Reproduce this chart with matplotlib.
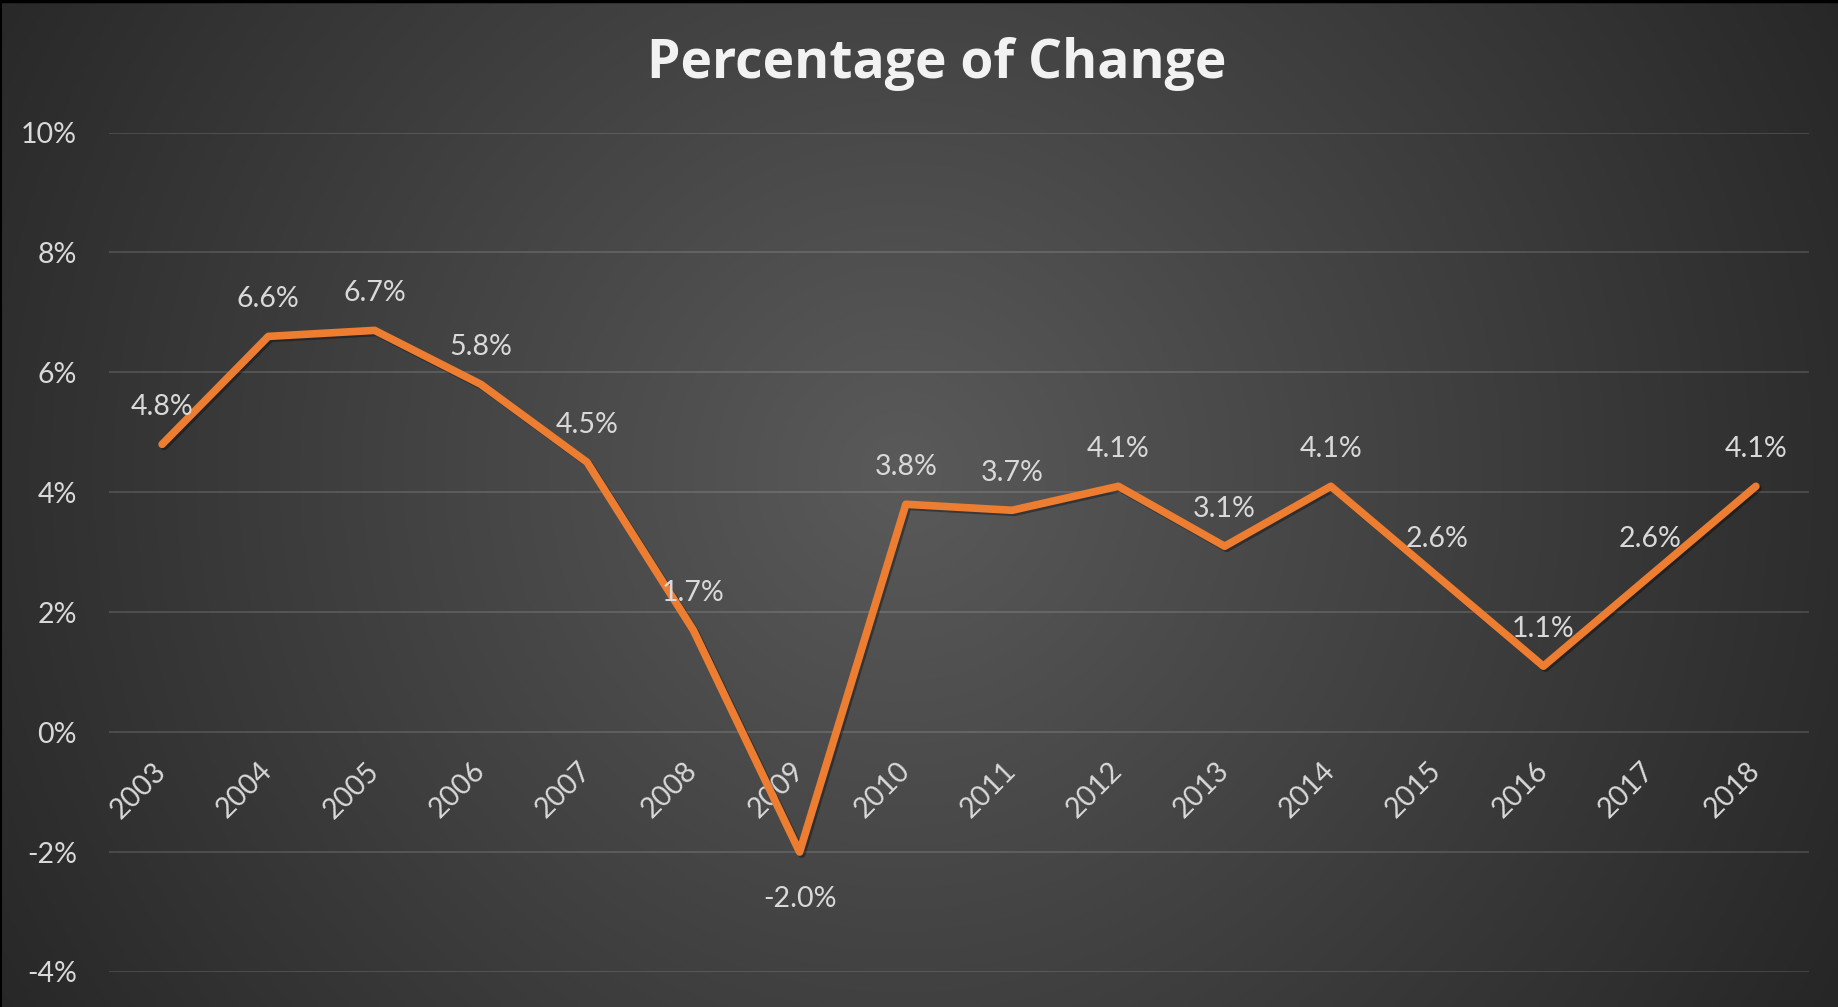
import numpy as np
import matplotlib
matplotlib.use("Agg")
import matplotlib.pyplot as plt
import matplotlib.patheffects as pe

years = ["2003", "2004", "2005", "2006", "2007", "2008", "2009", "2010",
         "2011", "2012", "2013", "2014", "2015", "2016", "2017", "2018"]
pct_change = [4.8, 6.6, 6.7, 5.8, 4.5, 1.7, -2.0, 3.8, 3.7, 4.1, 3.1, 4.1, 2.6, 1.1, 2.6, 4.1]
y_ticks = [-4, -2, 0, 2, 4, 6, 8, 10]
y_tick_labels = ["-4%", "-2%", "0%", "2%", "4%", "6%", "8%", "10%"]
title = "Percentage of Change"

W, H = 1838, 1007
fig = plt.figure(figsize=(W / 100, H / 100), dpi=100)

# radial background gradient
bg = fig.add_axes([0, 0, 1, 1], zorder=-10)
yy, xx = np.mgrid[0:H, 0:W]
cx, cy = W * 0.49, H * 0.47
d = np.sqrt((xx - cx) ** 2 + (yy - cy) ** 2)
d = d / d.max()
c_center, c_edge = 0x5a / 255, 0x26 / 255
val = c_center + (c_edge - c_center) * np.clip(d, 0, 1)
img = np.dstack([val, val, val])
bg.imshow(img, aspect="auto", extent=[0, 1, 0, 1], origin="upper")
bg.plot([0, 1], [0.999, 0.999], color="black", lw=2.5, transform=bg.transAxes)
bg.plot([0.0005, 0.0005], [0, 1], color="black", lw=1.5, transform=bg.transAxes)
bg.set_xlim(0, 1)
bg.set_ylim(0, 1)
bg.axis("off")

left, right = 109 / W, 1809 / W
top, bottom = (H - 132.5) / H, (H - 972) / H
ax = fig.add_axes([left, bottom, right - left, top - bottom])
ax.set_facecolor("none")

x = np.arange(len(years))
ax.plot(x, pct_change, color="#ED7D31", lw=5.5, solid_joinstyle="round",
        solid_capstyle="round", zorder=5,
        path_effects=[pe.SimpleLineShadow(offset=(1.5, -1.5), shadow_color="black", alpha=0.35),
                      pe.Normal()])

ax.set_xlim(-0.5, len(years) - 0.5)
ax.set_ylim(-4, 10)
ax.set_yticks(y_ticks, labels=y_tick_labels)
ax.yaxis.grid(True, color="white", alpha=0.13, lw=1.5)
ax.set_axisbelow(True)
for s in ax.spines.values():
    s.set_visible(False)
ax.spines["bottom"].set_position(("data", 0))

font = "Lato"
tick_color = "#d9d9d9"
ax.tick_params(axis="y", length=0, pad=23, labelsize=20.5, labelcolor=tick_color)
ax.set_xticks(x, labels=years)
ax.tick_params(axis="x", length=0, pad=25, labelsize=20.5, labelcolor=tick_color)
for lab in ax.get_xticklabels():
    lab.set_rotation(45)
    lab.set_ha("right")
    lab.set_va("center")
    lab.set_rotation_mode("anchor")
    lab.set_family(font)
for lab in ax.get_yticklabels():
    lab.set_family(font)

for xi, v in zip(x, pct_change):
    off = 27 if v >= 0 else -34
    ax.annotate(f"{v:.1f}%", xy=(xi, v), xytext=(0, off), textcoords="offset points",
                ha="center", va="center", fontsize=20.5, color=tick_color,
                family=font, zorder=6)

fig.text(0.5096, 1 - 64 / H, title, ha="center", va="center", fontsize=38.5,
         fontweight="bold", color="#f2f2f2", family="Open Sans")

fig.savefig("out.png", dpi=100)
